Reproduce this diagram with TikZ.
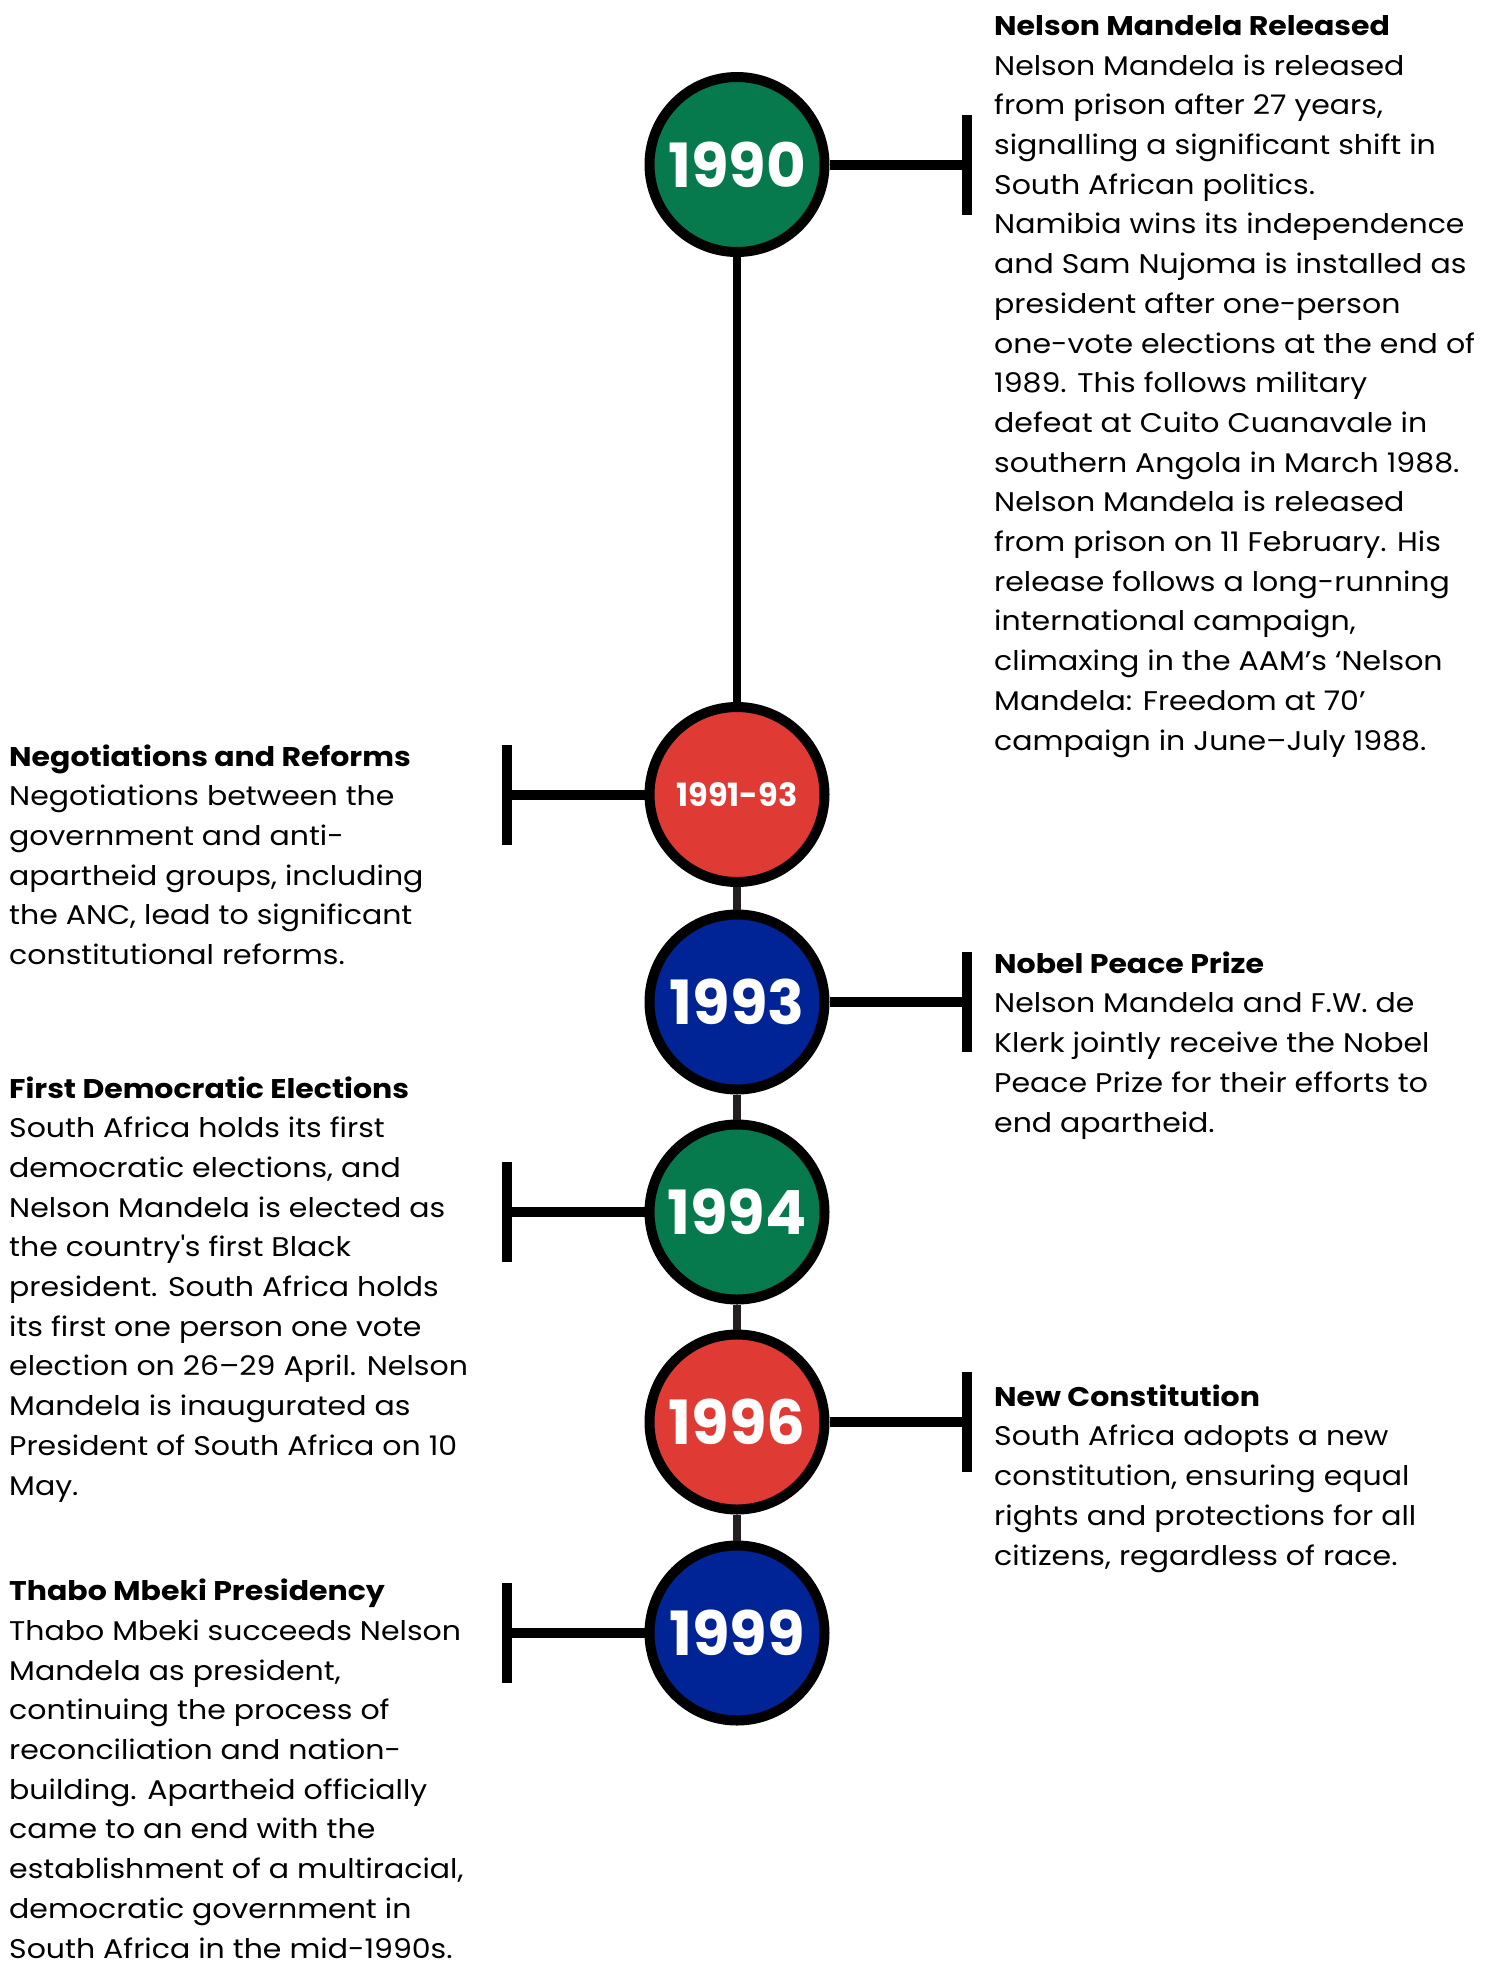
\documentclass[tikz,border=0pt]{standalone}
\usepackage{fontspec}
\setmainfont{Poppins}[FakeStretch=1.11]
\newfontfamily\yearfont{Poppins}
\usepackage{tikz}
\definecolor{sagreen}{RGB}{7, 122, 77}
\definecolor{sared}{RGB}{224, 58, 52}
\definecolor{sablue}{RGB}{0, 35, 149}
\definecolor{spinegray}{RGB}{35, 31, 32}

\begin{document}
\begin{tikzpicture}[x=1pt, y=-1pt,
    year/.style={circle, draw=black, line width=10pt, minimum size=175pt,
      inner sep=0pt, text=white, font=\yearfont\bfseries\fontsize{61}{61}\selectfont},
    link/.style={line width=10pt, draw=black},
    spine/.style={line width=8pt, draw=spinegray},
    % multi-line nodes sit on the baseline of their last line
    event/.style={anchor=base west, align=left, inner sep=0pt,
      font=\fontsize{27}{39.7}\selectfont}]
  \useasboundingbox (0,0) rectangle (1488,1966);

  % year markers down the middle
  \node[year, fill=sagreen] (c1990) at (737,164.5) {1990};
  \node[year, fill=sared, font=\yearfont\bfseries\fontsize{32}{32}\selectfont] (c1991) at (737,794.5) {1991-93};
  \node[year, fill=sablue] (c1993) at (737,1002) {1993};
  \node[year, fill=sagreen] (c1994) at (737,1212) {1994};
  \node[year, fill=sared] (c1996) at (737,1422) {1996};
  \node[year, fill=sablue] (c1999) at (737,1633) {1999};

  % the spine joining them
  \draw[spine, draw=black] (c1990) -- (c1991);
  \draw[spine] (c1991) -- (c1993);
  \draw[spine] (c1993) -- (c1994);
  \draw[spine] (c1994) -- (c1996);
  \draw[spine] (c1996) -- (c1999);

  % T-shaped stubs out to the text
  \coordinate (b1990) at (966.5,164.5);
  \coordinate (b1991) at (507,794.5);
  \coordinate (b1993) at (966.5,1002);
  \coordinate (b1994) at (507,1212);
  \coordinate (b1996) at (966.5,1422);
  \coordinate (b1999) at (507,1633);
  \draw[link] (c1990) -- (b1990) ([yshift=50pt]b1990) -- ([yshift=-50pt]b1990);
  \draw[link] (c1991) -- (b1991) ([yshift=50pt]b1991) -- ([yshift=-50pt]b1991);
  \draw[link] (c1993) -- (b1993) ([yshift=50pt]b1993) -- ([yshift=-50pt]b1993);
  \draw[link] (c1994) -- (b1994) ([yshift=50pt]b1994) -- ([yshift=-50pt]b1994);
  \draw[link] (c1996) -- (b1996) ([yshift=50pt]b1996) -- ([yshift=-50pt]b1996);
  \draw[link] (c1999) -- (b1999) ([yshift=50pt]b1999) -- ([yshift=-50pt]b1999);

  % event texts
  \node[event] (t1990) at (994,750) {\textbf{Nelson Mandela Released}\\
    Nelson Mandela is released\\
    from prison after 27 years,\\
    signalling a significant shift in\\
    South African politics.\\
    Namibia wins its independence\\
    and Sam Nujoma is installed as\\
    president after one-person\\
    one-vote elections at the end of\\
    1989. This follows military\\
    defeat at Cuito Cuanavale in\\
    southern Angola in March 1988.\\
    Nelson Mandela is released\\
    from prison on 11 February. His\\
    release follows a long-running\\
    international campaign,\\
    climaxing in the AAM’s ‘Nelson\\
    Mandela: Freedom at 70’\\
    campaign in June–July 1988.};
  \node[event] (t1991) at (9,964.5) {\textbf{Negotiations and Reforms}\\
    Negotiations between the\\
    government and anti-\\
    apartheid groups, including\\
    the ANC, lead to significant\\
    constitutional reforms.};
  \node[event] (t1993) at (994,1132) {\textbf{Nobel Peace Prize}\\
    Nelson Mandela and F.W. de\\
    Klerk jointly receive the Nobel\\
    Peace Prize for their efforts to\\
    end apartheid.};
  \node[event] (t1994) at (9,1495) {\textbf{First Democratic Elections}\\
    South Africa holds its first\\
    democratic elections, and\\
    Nelson Mandela is elected as\\
    the country\textquotesingle s first Black\\
    president. South Africa holds\\
    its first one person one vote\\
    election on 26–29 April. Nelson\\
    Mandela is inaugurated as\\
    President of South Africa on 10\\
    May.};
  \node[event] (t1996) at (994,1565) {\textbf{New Constitution}\\
    South Africa adopts a new\\
    constitution, ensuring equal\\
    rights and protections for all\\
    citizens, regardless of race.};
  \node[event] (t1999) at (9,1958) {\textbf{Thabo Mbeki Presidency}\\
    Thabo Mbeki succeeds Nelson\\
    Mandela as president,\\
    continuing the process of\\
    reconciliation and nation-\\
    building. Apartheid officially\\
    came to an end with the\\
    establishment of a multiracial,\\
    democratic government in\\
    South Africa in the mid-1990s.};
\end{tikzpicture}
\end{document}
